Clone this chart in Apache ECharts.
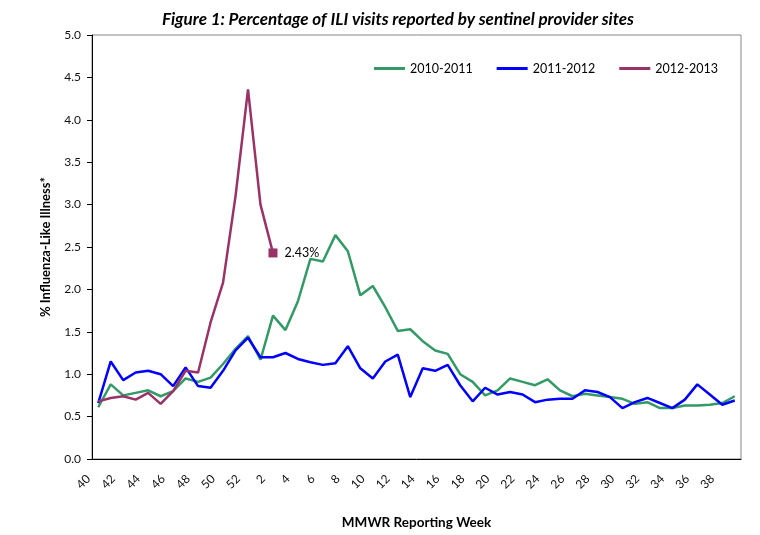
<!DOCTYPE html>
<html>
<head>
<meta charset="utf-8">
<script src="https://cdn.jsdelivr.net/npm/echarts@6/dist/echarts.min.js"></script>
<style>
  html, body { margin: 0; padding: 0; background: #fff; }
  #chart { width: 760px; height: 535px; }
</style>
</head>
<body>
<div id="chart"></div>
<script>
var weeks = [40, 41, 42, 43, 44, 45, 46, 47, 48, 49, 50, 51, 52,
    1, 2, 3, 4, 5, 6, 7, 8, 9, 10, 11, 12, 13, 14, 15, 16, 17, 18, 19, 20,
    21, 22, 23, 24, 25, 26, 27, 28, 29, 30, 31, 32, 33, 34, 35, 36, 37, 38, 39];

var season2010 = [0.61, 0.88, 0.75, 0.78, 0.81, 0.74, 0.80, 0.95, 0.91, 0.96,
    1.12, 1.30, 1.45, 1.17, 1.69, 1.52, 1.86, 2.36, 2.33, 2.64,
    2.45, 1.93, 2.04, 1.79, 1.51, 1.53, 1.39, 1.28, 1.24, 1.00,
    0.91, 0.75, 0.81, 0.95, 0.91, 0.87, 0.94, 0.81, 0.74, 0.77,
    0.75, 0.73, 0.71, 0.65, 0.67, 0.60, 0.60, 0.63, 0.63, 0.64,
    0.66, 0.74];

var season2011 = [0.66, 1.15, 0.93, 1.02, 1.04, 1.00, 0.86, 1.08, 0.86, 0.84,
    1.04, 1.28, 1.43, 1.20, 1.20, 1.25, 1.18, 1.14, 1.11, 1.13,
    1.33, 1.07, 0.95, 1.15, 1.23, 0.73, 1.07, 1.04, 1.11, 0.87,
    0.68, 0.84, 0.76, 0.79, 0.76, 0.67, 0.70, 0.71, 0.71, 0.81,
    0.79, 0.73, 0.60, 0.67, 0.72, 0.66, 0.60, 0.70, 0.88, 0.76,
    0.64, 0.69];

var season2012 = [0.68, 0.72, 0.74, 0.70, 0.78, 0.65, 0.80, 1.04, 1.02, 1.61,
    2.08, 3.10, 4.36, 3.00, 2.43];

var seasonNames = ['2010-2011', '2011-2012', '2012-2013'];
var seasonColors = ['#339966', '#0000ff', '#993366'];

var FONT = 'Lato';

// last reported week gets a square marker and a label
var lastIdx = season2012.length - 1;
var season2012Data = season2012.map(function (v, i) {
    if (i !== lastIdx) return v;
    return {
        value: v,
        symbol: 'rect',
        symbolSize: 9,
        label: {
            show: true,
            position: 'right',
            distance: 7,
            formatter: function (p) { return p.value.toFixed(2) + '%'; },
            color: '#000',
            fontSize: 12.5,
            fontFamily: FONT
        }
    };
});

var chart = echarts.init(document.getElementById('chart'));

chart.setOption({
    animation: false,
    title: {
        text: 'Figure 1: Percentage of ILI visits reported by sentinel provider sites',
        left: 157,
        top: 6,
        textStyle: {
            fontFamily: FONT,
            fontSize: 17,
            fontWeight: 'bold',
            fontStyle: 'italic',
            color: '#000'
        }
    },
    legend: {
        left: 369,
        top: 57,
        itemWidth: 31,
        itemHeight: 3,
        itemGap: 24,
        icon: 'rect',
        data: seasonNames,
        textStyle: { fontFamily: FONT, fontSize: 12.5, color: '#000' }
    },
    grid: {
        left: 92,
        right: 19,
        top: 35,
        bottom: 76,
        outerBoundsMode: 'none',
        containLabel: false,
        show: true,
        borderColor: '#868686',
        borderWidth: 1
    },
    xAxis: {
        type: 'category',
        data: weeks,
        boundaryGap: true,
        name: 'MMWR Reporting Week',
        nameLocation: 'middle',
        nameGap: 57,
        nameTextStyle: { fontFamily: FONT, fontSize: 13.5, fontWeight: 'bold', color: '#000' },
        axisLine: { lineStyle: { color: '#000', width: 1 } },
        axisTick: { show: false },
        axisLabel: {
            interval: 1,
            rotate: 45,
            margin: 8,
            padding: [0, 14, 0, 0],
            fontFamily: FONT,
            fontSize: 12,
            color: '#111'
        },
        splitLine: { show: false }
    },
    yAxis: {
        type: 'value',
        min: 0,
        max: 5,
        interval: 0.5,
        name: '% Influenza-Like Illness*',
        nameLocation: 'middle',
        nameGap: 40,
        nameTextStyle: { fontFamily: FONT, fontSize: 13, fontWeight: 'bold', color: '#000' },
        axisLine: { show: true, lineStyle: { color: '#000', width: 1 } },
        axisTick: { show: true, length: 5, lineStyle: { color: '#000' } },
        axisLabel: {
            margin: 11,
            fontFamily: FONT,
            fontSize: 12,
            color: '#111',
            formatter: function (v) { return v.toFixed(1); }
        },
        splitLine: { show: false }
    },
    series: [{
        name: seasonNames[0],
        type: 'line',
        data: season2010,
        symbol: 'none',
        color: seasonColors[0],
        lineStyle: { width: 2.5, color: seasonColors[0] }
    }, {
        name: seasonNames[1],
        type: 'line',
        data: season2011,
        symbol: 'none',
        color: seasonColors[1],
        lineStyle: { width: 2.5, color: seasonColors[1] }
    }, {
        name: seasonNames[2],
        type: 'line',
        data: season2012Data,
        symbol: 'none',
        color: seasonColors[2],
        itemStyle: { color: seasonColors[2] },
        lineStyle: { width: 2.5, color: seasonColors[2] }
    }]
});
</script>
</body>
</html>
